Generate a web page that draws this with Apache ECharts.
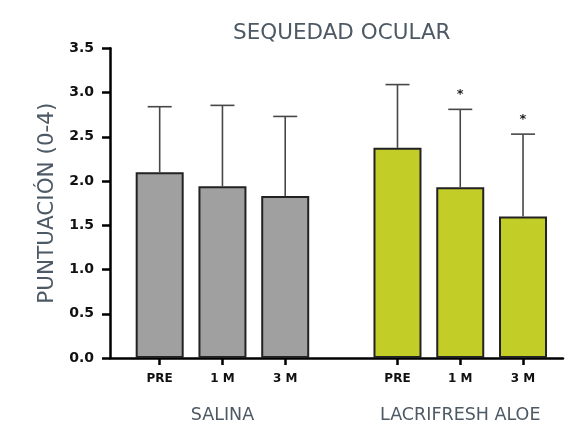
<!DOCTYPE html>
<html>
<head>
<meta charset="utf-8">
<script src="https://cdn.jsdelivr.net/npm/echarts@6/dist/echarts.min.js"></script>
<style>html,body{margin:0;padding:0;background:#fff}#c{width:565px;height:424px}</style>
</head>
<body>
<div id="c"></div>
<script>
const title = 'SEQUEDAD OCULAR';
const yName = 'PUNTUACIÓN (0-4)';
const groups = ['SALINA', 'LACRIFRESH ALOE'];
const categories = ['PRE', '1 M', '3 M'];
const yTicks = [0, 0.5, 1.0, 1.5, 2.0, 2.5, 3.0, 3.5];
const salinaMean = [2.10, 1.94, 1.83];
const salinaErrTop = [2.84, 2.855, 2.73];
const aloeMean = [2.375, 1.93, 1.60];
const aloeErrTop = [3.09, 2.81, 2.53];
const salinaSig = ['', '', ''];
const aloeSig = ['', '*', '*'];

const gridTop = 48.3, gridBottom = 424 - 358;
const yMin = yTicks[0], yMax = yTicks[yTicks.length - 1], yStep = yTicks[1] - yTicks[0];

function errData(mean, errTop) {
  return mean.map((m, i) => [i, m, errTop[i]]);
}
function makeRenderErr(sig) {
  return function (params, api) {
    const x = api.value(0);
    const base = api.coord([x, api.value(1)]);
    const tip = api.coord([x, api.value(2)]);
    const half = 12;
    const style = { stroke: '#474747', lineWidth: 1.6 };
    const children = [
      { type: 'line', shape: { x1: base[0], y1: base[1], x2: tip[0], y2: tip[1] }, style },
      { type: 'line', shape: { x1: tip[0] - half, y1: tip[1], x2: tip[0] + half, y2: tip[1] }, style }
    ];
    const s = sig[params.dataIndex];
    if (s) {
      children.push({ type: 'text', style: { text: s, x: tip[0], y: tip[1] - 15, align: 'center', verticalAlign: 'middle', fontSize: 13, fontFamily: 'DejaVu Sans', fontWeight: 'bold', fill: '#222' } });
    }
    return { type: 'group', children };
  };
}

const catAxis = (gi, name) => ({
  gridIndex: gi, type: 'category', data: categories,
  axisLine: { show: false },
  axisTick: { show: true, alignWithLabel: true, length: 7, lineStyle: { color: '#000', width: 2.5 } },
  axisLabel: { margin: 15, fontSize: 12, fontWeight: 'bold', fontFamily: 'DejaVu Sans', color: '#111' },
  name: name, nameLocation: 'middle', nameGap: 48,
  nameTextStyle: { fontSize: 17.5, fontFamily: 'DejaVu Sans', color: '#4d5964' }
});
const hiddenY = gi => ({ gridIndex: gi, type: 'value', min: yMin, max: yMax, interval: yStep, show: false });
const gridBase = { top: gridTop, bottom: gridBottom, outerBoundsMode: 'none', containLabel: false };

const option = {
  animation: false,
  title: { text: title, left: 228, top: 17,
    textStyle: { fontSize: 21.5, fontWeight: 'normal', fontFamily: 'DejaVu Sans', color: '#4d5964' } },
  grid: [
    Object.assign({ left: 110, right: 2 }, gridBase),
    Object.assign({ left: 128.3, width: 188.3 }, gridBase),
    Object.assign({ left: 366.1, width: 188.3 }, gridBase)
  ],
  xAxis: [
    { gridIndex: 0, type: 'value', min: 0, max: 1, axisLine: { show: true, lineStyle: { color: '#000', width: 2.5 } },
      axisTick: { show: false }, axisLabel: { show: false }, splitLine: { show: false } },
    catAxis(1, groups[0]),
    catAxis(2, groups[1])
  ],
  yAxis: [
    { gridIndex: 0, type: 'value', min: yMin, max: yMax, interval: yStep,
      axisLine: { show: true, lineStyle: { color: '#000', width: 2.5 } },
      axisTick: { show: true, length: 8, lineStyle: { color: '#000', width: 2.5 } },
      splitLine: { show: false },
      axisLabel: { margin: 16, fontSize: 14, fontWeight: 'bold', fontFamily: 'DejaVu Sans', color: '#111',
        formatter: v => v.toFixed(1) },
      name: yName, nameLocation: 'middle', nameGap: 51, nameRotate: 90,
      nameTextStyle: { fontSize: 21.5, fontFamily: 'DejaVu Sans', color: '#4d5964' } },
    hiddenY(1), hiddenY(2)
  ],
  series: [
    { type: 'bar', xAxisIndex: 1, yAxisIndex: 1, data: salinaMean, barWidth: 48,
      itemStyle: { color: '#a0a0a0', borderColor: '#222', borderWidth: 2 } },
    { type: 'bar', xAxisIndex: 2, yAxisIndex: 2, data: aloeMean, barWidth: 48,
      itemStyle: { color: '#c3cd28', borderColor: '#222', borderWidth: 2 } },
    { type: 'custom', xAxisIndex: 1, yAxisIndex: 1, renderItem: makeRenderErr(salinaSig),
      data: errData(salinaMean, salinaErrTop), z: 5 },
    { type: 'custom', xAxisIndex: 2, yAxisIndex: 2, renderItem: makeRenderErr(aloeSig),
      data: errData(aloeMean, aloeErrTop), z: 5 }
  ]
};
echarts.init(document.getElementById('c')).setOption(option);
</script>
</body>
</html>
